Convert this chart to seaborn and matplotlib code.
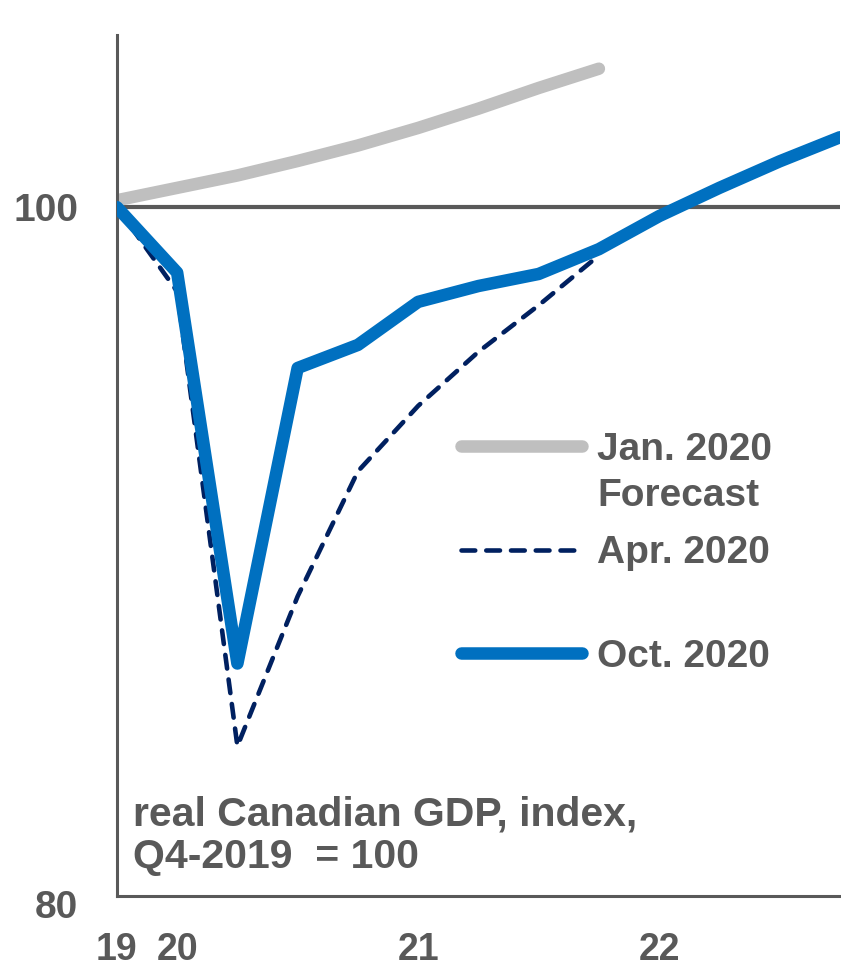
import numpy as np
import pandas as pd
import matplotlib
matplotlib.use("Agg")
import matplotlib.pyplot as plt
import matplotlib.transforms as mtransforms
import seaborn as sns

# quarters from Q4-2019 (index 0) to Q4-2022 (index 12)
quarter_labels = ["19", "20", "", "", "", "21", "", "", "", "22", "", "", ""]

jan_q = [0, 1, 2, 3, 4, 5, 6, 7, 8]
jan_2020 = [100.2, 100.56, 100.92, 101.34, 101.79, 102.3, 102.86, 103.46, 104.02]

apr_q = [0, 1, 2, 3, 4, 5, 6, 7, 8]
apr_2020 = [100.0, 97.55, 84.35, 88.7, 92.33, 94.23, 95.8, 97.15, 98.6]

oct_q = [0, 1, 2, 3, 4, 5, 6, 7, 8, 9, 10, 11, 12]
oct_2020 = [100.0, 98.1, 86.75, 95.33, 96.0, 97.25, 97.71, 98.06, 98.78,
            99.74, 100.56, 101.33, 102.03]

TEXT = "#595959"
GRAY = "#BFBFBF"
NAVY = "#002060"
BLUE = "#0070C0"

sns.set_theme(style="white")
plt.rcParams["font.family"] = ["Liberation Sans", "DejaVu Sans"]

fig = plt.figure(figsize=(8.41, 9.68), dpi=100)
ax = fig.add_axes([0.139, 0.0744, 0.8597, 0.8895])

ax.axhline(100, color=TEXT, lw=3.0, zorder=1)

sns.lineplot(x=jan_q, y=jan_2020, ax=ax, color=GRAY, lw=9,
             solid_capstyle="round", label="Jan. 2020", zorder=2)
sns.lineplot(x=apr_q, y=apr_2020, ax=ax, color=NAVY, lw=3.3,
             linestyle=(0, (3.0, 2.4)), dash_capstyle="round",
             label="Apr. 2020", zorder=3)
sns.lineplot(x=oct_q, y=oct_2020, ax=ax, color=BLUE, lw=9,
             solid_capstyle="round", solid_joinstyle="round",
             label="Oct. 2020", zorder=4)

ax.set_xlim(0, 12)
ax.set_ylim(80, 105)

ax.set_xticks(range(len(quarter_labels)))
ax.set_xticklabels(quarter_labels)
ax.set_yticks([80, 90, 100])
ax.set_yticklabels(["80", "", "100"])

ax.tick_params(axis="x", direction="in", length=7, width=1.5, color=TEXT,
               pad=26, labelsize=27, labelcolor=TEXT)
ax.tick_params(axis="y", direction="in", length=7, width=2, color=TEXT,
               pad=28, labelsize=28, labelcolor=TEXT)
for lab in ax.get_xticklabels() + ax.get_yticklabels():
    lab.set_fontweight("bold")

# the "80" label sits a little below the axis line
y80 = ax.get_yticklabels()[0]
y80.set_transform(y80.get_transform() +
                  mtransforms.ScaledTranslation(0, -6 / 72, fig.dpi_scale_trans))

for side in ["top", "right"]:
    ax.spines[side].set_visible(False)
for side in ["left", "bottom"]:
    ax.spines[side].set_color(TEXT)
    ax.spines[side].set_linewidth(2.2)

ax.set_xlabel("")
ax.set_ylabel("")

leg = ax.legend(loc="center left", bbox_to_anchor=(0.476, 0.398),
                frameon=False, borderpad=0, borderaxespad=0,
                handlelength=3.1, handletextpad=0.4, labelspacing=1.73,
                prop={"size": 28, "weight": "bold"})
for t in leg.get_texts():
    t.set_color(TEXT)

ax.annotate("Forecast", xy=(0, 0.5), xycoords=leg.get_texts()[0],
            xytext=(0, -33), textcoords="offset points", zorder=10,
            ha="left", va="center", fontsize=28, fontweight="bold", color=TEXT)

ax.text(0.022, 0.117, "real Canadian GDP, index,\nQ4-2019  = 100",
        transform=ax.transAxes, ha="left", va="top", fontsize=29.5,
        fontweight="bold", color=TEXT, linespacing=1.15)

fig.savefig("out.png", dpi=100)
